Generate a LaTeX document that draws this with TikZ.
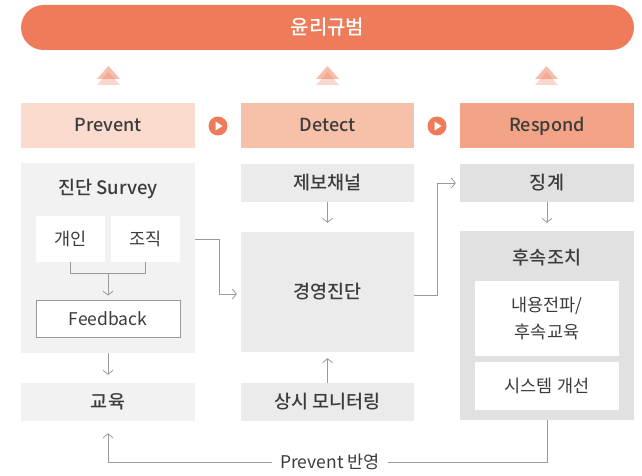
\documentclass[tikz,border=0pt]{standalone}
\usepackage{fontspec}
\setmainfont{Noto Sans CJK KR}[BoldFont={Noto Sans CJK KR Medium}]
\usetikzlibrary{arrows.meta, positioning, calc}
\definecolor{ethicorange}{HTML}{EE7B5A}
\definecolor{headprevent}{HTML}{FADBCE}
\definecolor{headdetect}{HTML}{F7C1A9}
\definecolor{headrespond}{HTML}{F3A386}
\definecolor{panelprevent}{HTML}{F2F2F2}
\definecolor{paneldetect}{HTML}{EBEBEB}
\definecolor{panelrespond}{HTML}{E1E1E1}
\definecolor{textdark}{HTML}{3C3C3C}
\definecolor{linegray}{HTML}{9A9A9A}

\begin{document}
\begin{tikzpicture}[
    x=1pt, y=-1pt,
    every node/.style={font=\fontsize{17.5}{21}\selectfont, text=textdark},
    head/.style={fill=#1, minimum width=174pt, minimum height=45pt, inner sep=0pt,
                 text height=12.5pt, text depth=0pt,
                 font=\fontsize{18}{21}\selectfont\bfseries},
    panel/.style={fill=#1, minimum width=174pt, inner sep=0pt},
    stage/.style={fill=#1, minimum width=174pt, minimum height=38pt, inner sep=0pt,
                  font=\fontsize{18.5}{21}\selectfont\bfseries},
    whitebox/.style={fill=white, inner sep=0pt},
    flow/.style={draw=linegray, line width=0.8pt, -{Straight Barb[length=4pt, width=10pt]}},
    playbtn/.style={circle, fill=ethicorange, minimum size=19pt, inner sep=0pt},
    uptri/.style={fill=ethicorange, opacity=#1},
]

% Bounding box
\useasboundingbox (0,0) rectangle (642,476);

% === Top banner ===
\node[fill=ethicorange, rounded corners=22.5pt, minimum width=613pt, minimum height=45pt,
      text=white, font=\fontsize{20}{22}\selectfont\bfseries] (ethics) at (327.5,27.5) {윤리규범};

% Double triangles
\foreach \x in {108.5, 327.5, 546.5} {
    \fill[uptri=0.3] (\x-11.5,85) -- (\x,72) -- (\x+11.5,85) -- cycle;
    \fill[uptri=0.5] (\x-11.5,79) -- (\x,66) -- (\x+11.5,79) -- cycle;
}

% === Stage headers ===
\node[head=headprevent] (prevent) at (108,125.5) {Prevent};
\node[head=headdetect, minimum width=173pt] (detect) at (327.5,125.5) {Detect};
\node[head=headrespond] (respond) at (547,125.5) {Respond};

\foreach \x/\n in {218/playA, 437/playB} {
    \node[playbtn] (\n) at (\x,126) {};
    \fill[white] ($(\n)+(-2.5,-4.5)$) -- ($(\n)+(4.5,0)$) -- ($(\n)+(-2.5,4.5)$) -- cycle;
}

% === Prevent column ===
\node[panel=panelprevent, minimum height=190pt] (survey) at (108,258) {};
\node[font=\fontsize{18.5}{21}\selectfont\bfseries] (surveytitle) at (108,189) {진단 Survey};
\node[whitebox, minimum width=69pt, minimum height=46pt] (person) at (70.5,239) {개인};
\node[whitebox, minimum width=69pt, minimum height=46pt] (org) at (145.5,239) {조직};
\node[whitebox, draw=linegray, line width=0.8pt, minimum width=144pt, minimum height=37pt]
      (feedback) at (108,318.5) {Feedback};
\coordinate (merge) at (108,273);
\draw[linegray, line width=0.8pt] (person.south) -- (person.south |- merge) -- (org.south |- merge) -- (org.south);
\draw[flow, shorten >=4pt] (merge) -- (feedback.north);

\node[stage=panelprevent] (edu) at (108,402) {교육};
\draw[flow, shorten >=8pt] (survey.south) -- (edu.north);

% === Detect column ===
\node[stage=paneldetect, minimum width=173pt] (report) at (327.5,183) {제보채널};
\node[panel=paneldetect, minimum width=173pt, minimum height=120pt,
      font=\fontsize{18.5}{21}\selectfont\bfseries] (diag) at (327.5,292) {경영진단};
\node[stage=paneldetect, minimum width=173pt] (monitor) at (327.5,402) {상시 모니터링};
\draw[flow, shorten >=9pt] (report.south) -- (diag.north);
\draw[flow, shorten >=6pt] (monitor.north) -- (diag.south);

% === Respond column ===
\node[stage=panelrespond] (discipline) at (547,183) {징계};
\node[panel=panelrespond, minimum height=189pt] (followup) at (547,325.5) {};
\node[font=\fontsize{18.5}{21}\selectfont\bfseries] (followtitle) at (547,258) {후속조치};
\node[whitebox, minimum width=144pt, minimum height=75pt, align=center,
      font=\fontsize{17.5}{27}\selectfont] (share) at (547,318.5) {내용전파/\\후속교육};
\node[whitebox, minimum width=144pt, minimum height=48pt] (system) at (547,386) {시스템 개선};
\draw[flow, shorten >=8pt] (discipline.south) -- (followup.north);

% === Cross-column connectors ===
\draw[flow, shorten >=4pt] (survey.east |- org) -- ++(24,0) |- ($(diag.west)+(0,2)$);
\draw[flow, shorten >=4pt] ($(diag.east)+(0,3)$) -- ++(23,0) |- (discipline.west);
\draw[flow, shorten >=12pt] (followup.south) -- ++(0,42) -| (edu.south);
\node[fill=white, inner xsep=8pt] (reflect) at (330,462) {Prevent 반영};

\end{tikzpicture}
\end{document}
